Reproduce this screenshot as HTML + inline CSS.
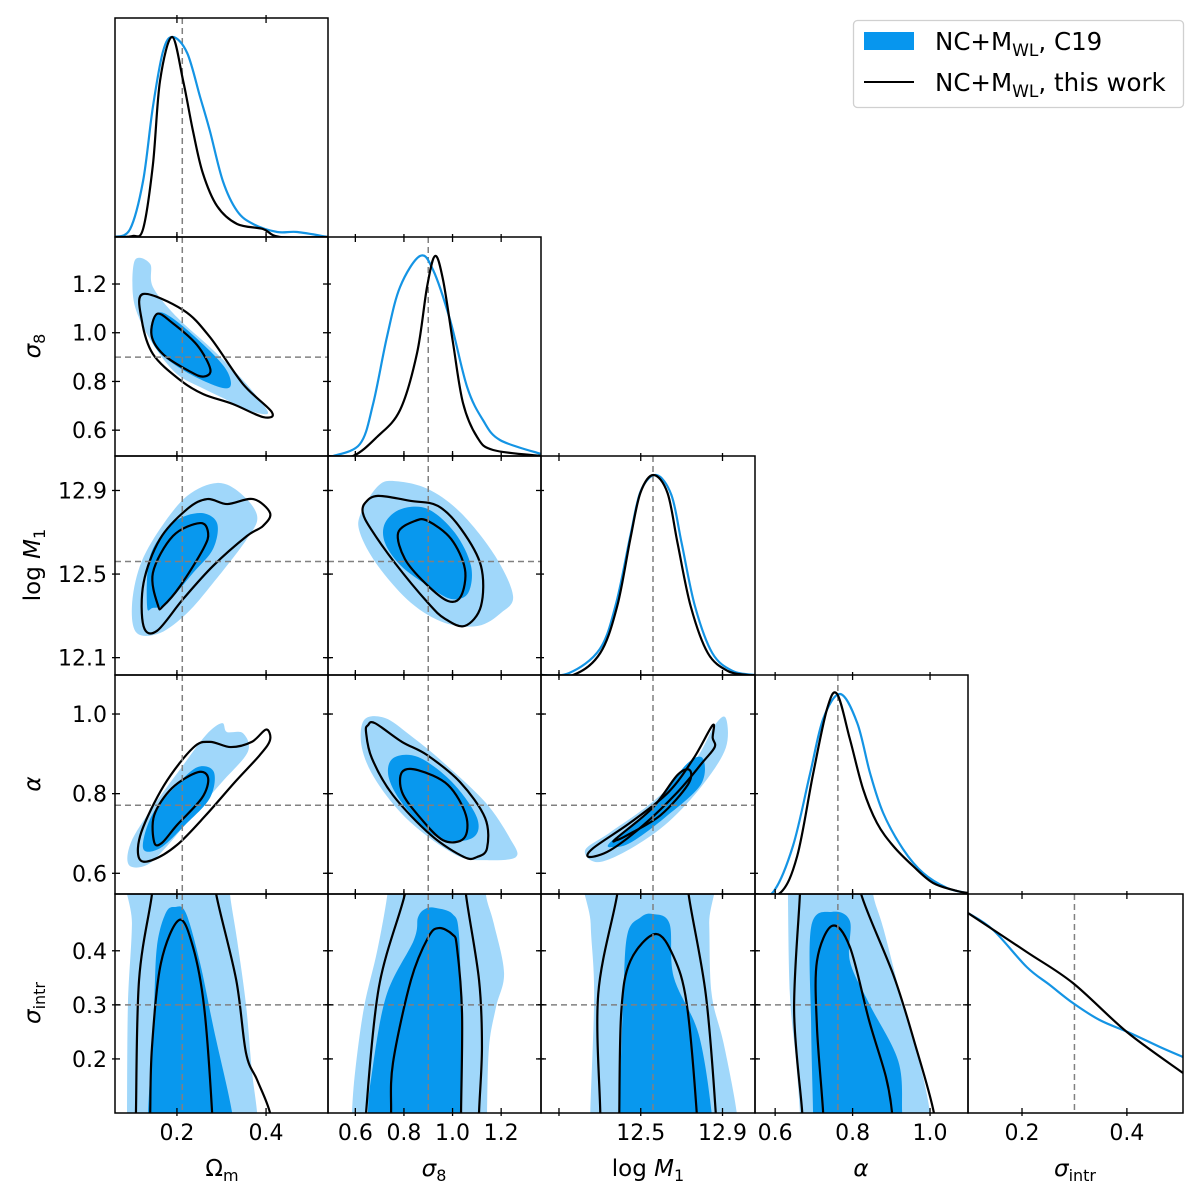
<!DOCTYPE html>
<html><head><meta charset="utf-8">
<style>
html,body{margin:0;padding:0;background:#fff;}
svg{display:block;}
text{font-family:"DejaVu Sans","Liberation Sans",sans-serif;fill:#000;}
</style></head>
<body>
<svg id="fig" width="1200" height="1200" viewBox="0 0 1200 1200" xmlns="http://www.w3.org/2000/svg">
<g id="marks"></g>
<g id="legend">
  <rect x="853.5" y="20.5" width="330" height="87" rx="4" fill="#fff" stroke="#d0d0d0" stroke-width="1.3"/>
  <rect x="864" y="32" width="50" height="18" fill="#0796ee"/>
  <line x1="864" y1="82" x2="914" y2="82" stroke="#000" stroke-width="2"/>
  <text x="935" y="50" font-size="24.5">NC+M<tspan font-size="17" dy="6">WL</tspan><tspan dy="-6">, C19</tspan></text>
  <text x="935" y="91" font-size="24.5">NC+M<tspan font-size="17" dy="6">WL</tspan><tspan dy="-6">, this work</tspan></text>
</g>
</svg>
<script>
// ---------- axes (data ranges) ----------
const xRanges=[[0.061,0.539],[0.4875,1.364],[12.012,13.059],[0.548,1.098],[0.097,0.507]];
const yRanges=[[0,1.095],[0.494,1.393],[12.017,13.065],[0.548,1.098],[0.100,0.505]];
const truths=[0.212,0.90,12.56,0.762,0.30];
const truthsY=[0.212,0.90,12.56,0.771,0.30];
const xTickVals=[[0.2,0.4],[0.6,0.8,1.0,1.2],[12.1,12.5,12.9],[0.6,0.8,1.0],[0.2,0.4]];
const xTickLabels=[["0.2","0.4"],["0.6","0.8","1.0","1.2"],["","12.5","12.9"],["0.6","0.8","1.0"],["0.2","0.4"]];
const yTickVals=[[],[0.6,0.8,1.0,1.2],[12.1,12.5,12.9],[0.6,0.8,1.0],[0.2,0.3,0.4]];
const yTickLabels=[[],["0.6","0.8","1.0","1.2"],["12.1","12.5","12.9"],["0.6","0.8","1.0"],["0.2","0.3","0.4"]];

// ---------- 1D marginals ----------
const om_c19=[[0.061,0],[0.095,0.04],[0.124,0.28],[0.146,0.65],[0.169,0.93],[0.191,1.0],[0.223,0.92],[0.252,0.70],[0.274,0.53],[0.303,0.28],[0.335,0.13],[0.371,0.065],[0.425,0.025],[0.47,0.025],[0.539,0]];
const om_tw=[[0.061,0],[0.10,0.005],[0.124,0.04],[0.146,0.36],[0.162,0.78],[0.189,1.0],[0.214,0.78],[0.236,0.53],[0.258,0.32],[0.290,0.155],[0.335,0.065],[0.393,0.04],[0.431,0.0],[0.539,0]];
const s8_c19=[[0.4875,0],[0.508,0.0],[0.619,0.06],[0.673,0.26],[0.730,0.595],[0.784,0.845],[0.866,1.0],[0.920,0.93],[0.990,0.68],[1.060,0.345],[1.125,0.18],[1.195,0.08],[1.364,0.01]];
const s8_tw=[[0.4875,0],[0.59,0.0],[0.689,0.095],[0.784,0.23],[0.854,0.515],[0.895,0.845],[0.928,1.0],[0.961,0.88],[1.002,0.565],[1.043,0.265],[1.101,0.095],[1.167,0.03],[1.364,0.0]];
const lm_c19=[[12.012,0],[12.15,0.01],[12.30,0.13],[12.38,0.36],[12.45,0.70],[12.50,0.92],[12.575,1.0],[12.65,0.90],[12.70,0.66],[12.765,0.345],[12.85,0.11],[12.95,0.02],[13.059,0.0]];
const lm_tw=[[12.012,0],[12.169,0.0],[12.302,0.11],[12.385,0.345],[12.449,0.68],[12.498,0.91],[12.562,1.0],[12.631,0.91],[12.680,0.66],[12.744,0.345],[12.828,0.11],[12.926,0.02],[13.024,0],[13.059,0]];
const al_c19=[[0.548,0],[0.595,0.01],[0.646,0.24],[0.690,0.6],[0.724,0.875],[0.768,1.0],[0.812,0.855],[0.845,0.605],[0.879,0.405],[0.930,0.225],[0.982,0.105],[1.044,0.03],[1.096,0.005]];
const al_tw=[[0.548,0],[0.613,0.005],[0.657,0.19],[0.698,0.6],[0.734,0.925],[0.760,1.0],[0.793,0.775],[0.827,0.525],[0.863,0.355],[0.905,0.24],[0.956,0.14],[1.008,0.055],[1.070,0.015],[1.098,0.005]];
const si_c19=[[0.097,1.0],[0.145,0.915],[0.209,0.73],[0.253,0.64],[0.297,0.55],[0.348,0.465],[0.406,0.40],[0.463,0.33],[0.507,0.28]];
const si_tw=[[0.097,1.0],[0.209,0.805],[0.297,0.65],[0.400,0.405],[0.507,0.2]];

// ---------- 2D contours: (omega_m, sigma8) ----------
const omS8_l=[[0.106,1.299],[0.140,1.282],[0.146,1.188],[0.200,1.064],[0.274,0.941],[0.342,0.818],[0.393,0.707],[0.402,0.666],[0.357,0.683],[0.312,0.724],[0.252,0.777],[0.200,0.830],[0.155,0.929],[0.117,1.052],[0.101,1.159]];
const omS8_d=[[0.155,1.08],[0.19,1.06],[0.26,0.95],[0.31,0.85],[0.32,0.78],[0.29,0.78],[0.22,0.84],[0.16,0.92],[0.14,1.0]];
const omS8_b1=[[0.155,1.077],[0.19,1.04],[0.245,0.95],[0.275,0.85],[0.26,0.82],[0.23,0.84],[0.17,0.91],[0.143,0.99]];
const omS8_b2=[[0.124,1.159],[0.214,1.093],[0.274,0.982],[0.348,0.79],[0.413,0.674],[0.393,0.654],[0.326,0.707],[0.259,0.748],[0.207,0.806],[0.146,0.913],[0.121,1.052]];
// (omega_m, logM1)
const omLm_l=[[0.099,12.347],[0.117,12.539],[0.162,12.716],[0.223,12.874],[0.290,12.936],[0.342,12.888],[0.380,12.778],[0.357,12.668],[0.281,12.457],[0.223,12.314],[0.162,12.218],[0.110,12.218]];
const omLm_d=[[0.133,12.347],[0.140,12.587],[0.191,12.744],[0.252,12.792],[0.290,12.744],[0.281,12.620],[0.236,12.505],[0.178,12.362],[0.146,12.338]];
const omLm_b1=[[0.158,12.347],[0.146,12.505],[0.191,12.682],[0.252,12.744],[0.270,12.696],[0.259,12.620],[0.207,12.442],[0.169,12.347]];
const omLm_b2=[[0.125,12.251],[0.125,12.457],[0.162,12.668],[0.223,12.811],[0.268,12.859],[0.313,12.835],[0.371,12.859],[0.409,12.792],[0.393,12.730],[0.357,12.682],[0.281,12.539],[0.214,12.381],[0.155,12.228]];
// (sigma8, logM1)
const s8Lm_l=[[0.623,12.792],[0.693,12.921],[0.763,12.945],[0.899,12.907],[1.035,12.792],[1.175,12.587],[1.249,12.395],[1.199,12.314],[1.105,12.252],[0.969,12.266],[0.829,12.362],[0.693,12.539],[0.619,12.697]];
const s8Lm_d=[[0.722,12.744],[0.788,12.811],[0.899,12.811],[1.010,12.697],[1.076,12.539],[1.064,12.409],[0.994,12.381],[0.899,12.443],[0.788,12.539],[0.722,12.649]];
const s8Lm_b1=[[0.776,12.697],[0.845,12.754],[0.899,12.754],[0.994,12.668],[1.051,12.524],[1.035,12.395],[0.981,12.371],[0.887,12.457],[0.804,12.572]];
const s8Lm_b2=[[0.640,12.840],[0.693,12.874],[0.829,12.850],[0.940,12.826],[1.035,12.716],[1.117,12.539],[1.117,12.347],[1.051,12.252],[0.969,12.286],[0.899,12.362],[0.763,12.553],[0.664,12.716],[0.631,12.792]];
// (omega_m, alpha)
const omAl_l=[[0.092,0.621],[0.097,0.678],[0.144,0.764],[0.209,0.864],[0.265,0.947],[0.301,0.977],[0.312,0.955],[0.348,0.952],[0.359,0.905],[0.301,0.829],[0.236,0.746],[0.180,0.671],[0.133,0.621]];
const omAl_d=[[0.124,0.663],[0.144,0.746],[0.200,0.822],[0.247,0.867],[0.283,0.854],[0.274,0.789],[0.218,0.721],[0.162,0.663]];
const omAl_b1=[[0.149,0.678],[0.149,0.746],[0.189,0.814],[0.247,0.854],[0.270,0.839],[0.256,0.789],[0.200,0.721],[0.166,0.676]];
const omAl_b2=[[0.115,0.638],[0.120,0.703],[0.171,0.821],[0.236,0.915],[0.274,0.930],[0.321,0.917],[0.368,0.930],[0.400,0.961],[0.409,0.935],[0.386,0.897],[0.330,0.829],[0.265,0.746],[0.200,0.671],[0.144,0.633]];
// (sigma8, alpha)
const s8Al_l=[[0.636,0.985],[0.722,0.990],[0.825,0.947],[0.961,0.879],[1.134,0.779],[1.236,0.688],[1.261,0.641],[1.134,0.633],[1.014,0.646],[0.825,0.729],[0.689,0.829],[0.627,0.915]];
const s8Al_d=[[0.755,0.889],[0.858,0.892],[0.998,0.829],[1.101,0.739],[1.080,0.688],[0.944,0.688],[0.808,0.764],[0.738,0.839]];
const s8Al_b1=[[0.792,0.854],[0.858,0.859],[0.981,0.822],[1.055,0.746],[1.047,0.688],[0.961,0.683],[0.858,0.746],[0.792,0.804]];
const s8Al_b2=[[0.652,0.972],[0.681,0.977],[0.792,0.930],[0.895,0.897],[1.031,0.829],[1.134,0.739],[1.142,0.663],[1.101,0.641],[1.047,0.641],[0.911,0.696],[0.755,0.796],[0.668,0.889],[0.644,0.955]];
// (logM1, alpha)
const lmAl_l=[[12.228,0.658],[12.351,0.703],[12.557,0.779],[12.759,0.879],[12.862,0.972],[12.916,0.990],[12.916,0.915],[12.803,0.822],[12.636,0.729],[12.454,0.663],[12.292,0.628]];
const lmAl_d=[[12.351,0.678],[12.557,0.764],[12.720,0.872],[12.803,0.889],[12.793,0.822],[12.616,0.739],[12.454,0.678],[12.371,0.666]];
const lmAl_b1=[[12.381,0.688],[12.557,0.764],[12.680,0.847],[12.740,0.859],[12.730,0.822],[12.597,0.746],[12.435,0.696],[12.381,0.683]];
const lmAl_b2=[[12.248,0.641],[12.267,0.663],[12.454,0.729],[12.636,0.804],[12.759,0.889],[12.852,0.972],[12.852,0.940],[12.862,0.917],[12.803,0.879],[12.680,0.804],[12.513,0.721],[12.351,0.658]];
// (omega_m, sigma_intr)
const omSi_l=[[0.095,0.57],[0.099,0.45],[0.090,0.30],[0.088,0.10],[0.088,0.03],[0.385,0.03],[0.380,0.10],[0.368,0.18],[0.355,0.30],[0.335,0.42],[0.319,0.505],[0.315,0.57]];
const omSi_d=[[0.132,0.03],[0.135,0.10],[0.148,0.285],[0.155,0.407],[0.175,0.470],[0.196,0.481],[0.220,0.470],[0.252,0.377],[0.283,0.254],[0.324,0.10],[0.328,0.03]];
const omSi_b1=[[0.139,0.03],[0.140,0.10],[0.144,0.222],[0.164,0.377],[0.205,0.457],[0.236,0.407],[0.261,0.296],[0.279,0.10],[0.280,0.03]];
const omSi_b2=[[0.148,0.57],[0.144,0.505],[0.115,0.346],[0.108,0.10],[0.107,0.03],[0.42,0.03],[0.409,0.10],[0.380,0.161],[0.355,0.211],[0.333,0.346],[0.288,0.505],[0.282,0.57]];
// (sigma8, sigma_intr)
const s8Si_l=[[0.74,0.57],[0.732,0.505],[0.690,0.40],[0.636,0.296],[0.600,0.18],[0.586,0.10],[0.583,0.03],[1.142,0.03],[1.142,0.10],[1.150,0.222],[1.179,0.296],[1.212,0.359],[1.17,0.45],[1.137,0.505],[1.135,0.57]];
const s8Si_d=[[0.650,0.03],[0.652,0.10],[0.664,0.161],[0.726,0.315],[0.841,0.420],[0.858,0.462],[0.890,0.478],[0.932,0.479],[1.000,0.468],[1.026,0.433],[1.035,0.285],[1.039,0.10],[1.039,0.03]];
const s8Si_b1=[[0.746,0.03],[0.747,0.10],[0.755,0.193],[0.829,0.346],[0.900,0.425],[0.944,0.442],[1.000,0.430],[1.018,0.407],[1.039,0.285],[1.035,0.10],[1.035,0.03]];
const s8Si_b2=[[0.815,0.57],[0.804,0.505],[0.697,0.333],[0.644,0.10],[0.640,0.03],[1.108,0.03],[1.109,0.10],[1.121,0.222],[1.109,0.346],[1.055,0.505],[1.050,0.57]];
// (logM1, sigma_intr)
const lmSi_l=[[12.253,0.57],[12.255,0.45],[12.272,0.320],[12.253,0.10],[12.252,0.03],[12.975,0.03],[12.970,0.10],[12.906,0.228],[12.847,0.320],[12.835,0.45],[12.828,0.57]];
const lmSi_d=[[12.394,0.03],[12.395,0.10],[12.415,0.320],[12.435,0.431],[12.500,0.462],[12.558,0.468],[12.641,0.450],[12.661,0.352],[12.783,0.246],[12.847,0.10],[12.850,0.03]];
const lmSi_b1=[[12.395,0.03],[12.395,0.10],[12.405,0.289],[12.449,0.381],[12.572,0.431],[12.661,0.389],[12.725,0.302],[12.774,0.10],[12.776,0.03]];
const lmSi_b2=[[12.39,0.57],[12.385,0.505],[12.292,0.320],[12.302,0.10],[12.303,0.03],[12.870,0.03],[12.867,0.10],[12.818,0.320],[12.734,0.505],[12.730,0.57]];
// (alpha, sigma_intr)
const alSi_l=[[0.633,0.57],[0.633,0.505],[0.638,0.320],[0.654,0.196],[0.664,0.10],[0.666,0.03],[1.003,0.03],[1.0,0.10],[0.972,0.196],[0.928,0.307],[0.88,0.44],[0.853,0.505],[0.850,0.57]];
const alSi_d=[[0.698,0.03],[0.698,0.10],[0.693,0.259],[0.693,0.444],[0.747,0.472],[0.793,0.455],[0.793,0.381],[0.843,0.302],[0.918,0.196],[0.928,0.10],[0.930,0.03]];
const alSi_b1=[[0.726,0.03],[0.724,0.10],[0.708,0.259],[0.708,0.381],[0.747,0.446],[0.793,0.407],[0.843,0.270],[0.886,0.167],[0.902,0.10],[0.905,0.03]];
const alSi_b2=[[0.665,0.57],[0.664,0.505],[0.649,0.289],[0.670,0.10],[0.672,0.03],[1.013,0.03],[1.010,0.10],[0.961,0.228],[0.907,0.352],[0.822,0.505],[0.818,0.57]];

// ---------- layout ----------
const colX=[115,328,541,755,968], W=[213,213,214,213,215];
const rowY=[18,237,456,675,894], H=219;
const LIGHT="#a0d7fa", DARK="#0898ee", BLUE="#1494e4";
function sx(j,v){const r=xRanges[j];return colX[j]+(v-r[0])/(r[1]-r[0])*W[j];}
function sy(i,v){const r=yRanges[i];return rowY[i]+H-(v-r[0])/(r[1]-r[0])*H;}
const NS="http://www.w3.org/2000/svg";
const root=document.getElementById('marks');
function mk(tag,attrs,parent){const e=document.createElementNS(NS,tag);for(const k in attrs)e.setAttribute(k,attrs[k]);(parent||root).appendChild(e);return e;}
function smooth(p,closed){
  const n=p.length;let d="M"+p[0][0].toFixed(2)+","+p[0][1].toFixed(2);
  const get=k=>closed?p[(k+n)%n]:p[Math.max(0,Math.min(n-1,k))];
  const segs=closed?n:n-1;
  for(let k=0;k<segs;k++){
    const p0=get(k-1),p1=get(k),p2=get(k+1),p3=get(k+2);
    const c1=[p1[0]+(p2[0]-p0[0])/6,p1[1]+(p2[1]-p0[1])/6];
    const c2=[p2[0]-(p3[0]-p1[0])/6,p2[1]-(p3[1]-p1[1])/6];
    d+="C"+c1[0].toFixed(2)+","+c1[1].toFixed(2)+" "+c2[0].toFixed(2)+","+c2[1].toFixed(2)+" "+p2[0].toFixed(2)+","+p2[1].toFixed(2);
  }
  return d+(closed?"Z":"");
}
const defs=mk('defs',{});
function clipFor(i,j){
  const id="c"+i+"_"+j;
  const cp=mk('clipPath',{id:id},defs);
  mk('rect',{x:colX[j],y:rowY[i],width:W[j],height:H},cp);
  return "url(#"+id+")";
}

const twoD=[
 {i:1,j:0,n:"omega-m-vs-sigma8",c:[omS8_l,omS8_d,omS8_b1,omS8_b2]},
 {i:2,j:0,n:"omega-m-vs-logm1",c:[omLm_l,omLm_d,omLm_b1,omLm_b2]},
 {i:2,j:1,n:"sigma8-vs-logm1",c:[s8Lm_l,s8Lm_d,s8Lm_b1,s8Lm_b2]},
 {i:3,j:0,n:"omega-m-vs-alpha",c:[omAl_l,omAl_d,omAl_b1,omAl_b2]},
 {i:3,j:1,n:"sigma8-vs-alpha",c:[s8Al_l,s8Al_d,s8Al_b1,s8Al_b2]},
 {i:3,j:2,n:"logm1-vs-alpha",c:[lmAl_l,lmAl_d,lmAl_b1,lmAl_b2]},
 {i:4,j:0,n:"omega-m-vs-sigma-intr",c:[omSi_l,omSi_d,omSi_b1,omSi_b2]},
 {i:4,j:1,n:"sigma8-vs-sigma-intr",c:[s8Si_l,s8Si_d,s8Si_b1,s8Si_b2]},
 {i:4,j:2,n:"logm1-vs-sigma-intr",c:[lmSi_l,lmSi_d,lmSi_b1,lmSi_b2]},
 {i:4,j:3,n:"alpha-vs-sigma-intr",c:[alSi_l,alSi_d,alSi_b1,alSi_b2]}
];
const diag=[[om_c19,om_tw],[s8_c19,s8_tw],[lm_c19,lm_tw],[al_c19,al_tw],[si_c19,si_tw]];
const pnames=["omega-m","sigma8","logm1","alpha","sigma-intr"];

twoD.forEach(P=>{
  const g=mk('g',{'clip-path':clipFor(P.i,P.j)});
  
  
  const toPx=arr=>arr.map(q=>[sx(P.j,q[0]),sy(P.i,q[1])]);
  const styles=[{fill:LIGHT,stroke:"none"},{fill:DARK,stroke:"none"},{fill:"none",stroke:"#000","stroke-width":2.2},{fill:"none",stroke:"#000","stroke-width":2.2}];
  const nm=["contour-c19-95","contour-c19-68","contour-this-work-68","contour-this-work-95"];
  P.c.forEach((arr,k)=>{
    const e=mk('path',Object.assign({d:smooth(toPx(arr),true)},styles[k]),g);
    
    
  });
  const vx=sx(P.j,truths[P.j]);
  const v=mk('line',{x1:vx,x2:vx,y1:rowY[P.i],y2:rowY[P.i]+H,stroke:"#808080","stroke-width":1.5,"stroke-dasharray":"6,4"},g);
  
  
  const hy=sy(P.i,truthsY[P.i]);
  const h=mk('line',{x1:colX[P.j],x2:colX[P.j]+W[P.j],y1:hy,y2:hy,stroke:"#808080","stroke-width":1.5,"stroke-dasharray":"6,4"},g);
  
  
});

diag.forEach((pair,j)=>{
  const g=mk('g',{'clip-path':clipFor(j,j)});
  
  
  const toPx=arr=>arr.map(q=>[colX[j]+(q[0]-xRanges[j][0])/(xRanges[j][1]-xRanges[j][0])*W[j], rowY[j]+H-(q[1]-yRanges[0][0])/(yRanges[0][1]-yRanges[0][0])*H]);
  const vx=sx(j,truths[j]);
  const v=mk('line',{x1:vx,x2:vx,y1:rowY[j],y2:rowY[j]+H,stroke:"#808080","stroke-width":1.5,"stroke-dasharray":"6,4"},g);
  
  
  const b=mk('path',{d:smooth(toPx(pair[0]),false),fill:"none",stroke:BLUE,"stroke-width":2.2},g);
  
  
  const k=mk('path',{d:smooth(toPx(pair[1]),false),fill:"none",stroke:"#000","stroke-width":2.2},g);
  
  
});

for(let i=0;i<5;i++){for(let j=0;j<=i;j++){
  const x0=colX[j],y0=rowY[i],w=W[j];
  const f=mk('rect',{x:x0,y:y0,width:w,height:H,fill:"none",stroke:"#000","stroke-width":1.5});
  
  
  xTickVals[j].forEach(t=>{
    const x=sx(j,t);
    const a=mk('line',{x1:x,x2:x,y1:y0+H+3,y2:y0+H-5,stroke:"#000","stroke-width":1.3});
    
    
    const b=mk('line',{x1:x,x2:x,y1:y0-3,y2:y0+5,stroke:"#000","stroke-width":1.3});
    
    
  });
  if(i!==j){yTickVals[i].forEach(t=>{
    const y=sy(i,t);
    const a=mk('line',{x1:x0-3,x2:x0+5,y1:y,y2:y,stroke:"#000","stroke-width":1.3});
    
    
    const b=mk('line',{x1:x0+w-5,x2:x0+w+3,y1:y,y2:y,stroke:"#000","stroke-width":1.3});
    
    
  });}
}}
for(let j=0;j<5;j++){xTickVals[j].forEach((t,k)=>{
  const e=mk('text',{x:sx(j,t),y:1140,'font-size':22,'text-anchor':'middle'});
  e.textContent=xTickLabels[j][k];
  
  
});}
for(let i=1;i<5;i++){yTickVals[i].forEach((t,k)=>{
  const e=mk('text',{x:107,y:sy(i,t)+8,'font-size':22,'text-anchor':'end'});
  e.textContent=yTickLabels[i][k];
  
  
});}
</script>
<script>
(function(){
 const fig=document.getElementById('fig');
 const html=[
  '<text x="222" y="1176" font-size="23" text-anchor="middle">Ω<tspan font-size="16" dy="5">m</tspan></text>',
  '<text x="434" y="1176" font-size="23" text-anchor="middle"><tspan font-style="italic">σ</tspan><tspan font-size="16" dy="5">8</tspan></text>',
  '<text x="648" y="1176" font-size="23" text-anchor="middle">log <tspan font-style="italic">M</tspan><tspan font-size="16" dy="5">1</tspan></text>',
  '<text x="861" y="1176" font-size="23" text-anchor="middle" font-style="italic">α</text>',
  '<text x="1075" y="1176" font-size="23" text-anchor="middle"><tspan font-style="italic">σ</tspan><tspan font-size="16" dy="5">intr</tspan></text>',
  '<text transform="translate(40,346) rotate(-90)" font-size="23" text-anchor="middle"><tspan font-style="italic">σ</tspan><tspan font-size="16" dy="5">8</tspan></text>',
  '<text transform="translate(40,565) rotate(-90)" font-size="23" text-anchor="middle">log <tspan font-style="italic">M</tspan><tspan font-size="16" dy="5">1</tspan></text>',
  '<text transform="translate(40,784) rotate(-90)" font-size="23" text-anchor="middle" font-style="italic">α</text>',
  '<text transform="translate(40,1003) rotate(-90)" font-size="23" text-anchor="middle"><tspan font-style="italic">σ</tspan><tspan font-size="16" dy="5">intr</tspan></text>'
 ].join('');
 const g=document.createElementNS("http://www.w3.org/2000/svg",'g');
 
 
 g.innerHTML=html;
 fig.appendChild(g);
})();
</script>
</body></html>
